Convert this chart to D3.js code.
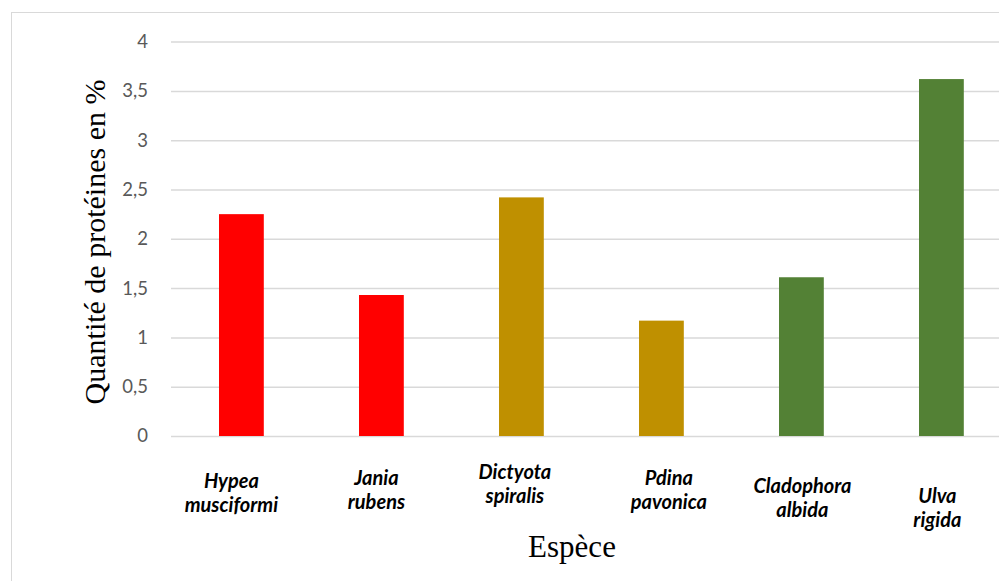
<!DOCTYPE html>
<html>
<head>
<meta charset="utf-8">
<script src="https://cdn.jsdelivr.net/npm/d3@7"></script>
<style>
  html, body { margin: 0; padding: 0; background: #fff; }
  svg { display: block; }
</style>
</head>
<body>
<svg id="chart" width="999" height="581"></svg>
<script>
// Species (two-line labels) and protein content (%)
const speciesLine1 = ["Hypea", "Jania", "Dictyota", "Pdina", "Cladophora", "Ulva"];
const speciesLine2 = ["musciformi", "rubens", "spiralis", "pavonica", "albida", "rigida"];
const proteinPct = [2.25, 1.43, 2.42, 1.17, 1.61, 3.62];
const algaGroup = ["rouge", "rouge", "brune", "brune", "verte", "verte"];
const groupNames = ["rouge", "brune", "verte"];
const groupColors = ["#ff0000", "#bf9000", "#538135"];
const yTicks = [0, 0.5, 1, 1.5, 2, 2.5, 3, 3.5, 4];
const yTitle = "Quantité de protéines en %";
const xTitle = "Espèce";

const svg = d3.select("#chart");

// chart frame
svg.append("rect")
  .attr("x", 11.5).attr("y", 12.5)
  .attr("width", 1000).attr("height", 600)
  .attr("fill", "none").attr("stroke", "#d9d9d9").attr("stroke-width", 1);

const x = d3.scaleBand()
  .domain(d3.range(speciesLine1.length))
  .range([171.4, 1011.4])
  .paddingInner(0.68)
  .paddingOuter(0.34);

const y = d3.scaleLinear().domain([0, 4]).range([436, 41.6]);

const color = d3.scaleOrdinal().domain(groupNames).range(groupColors);

const fmt = v => String(v).replace(".", ",");

// horizontal gridlines via axis ticks
const yAxis = d3.axisLeft(y)
  .tickValues(yTicks)
  .tickSize(-(1011 - 171))
  .tickPadding(23)
  .tickFormat(fmt);

const gy = svg.append("g").attr("transform", "translate(171,0)").call(yAxis);
gy.select(".domain").remove();
gy.selectAll(".tick line").attr("stroke", "#d9d9d9").attr("stroke-width", 1.5);
gy.selectAll(".tick text")
  .attr("fill", "#595959")
  .style("font-family", "Lato, 'Open Sans', sans-serif")
  .style("font-size", "18.5px");

// bars
svg.append("g").selectAll("rect")
  .data(proteinPct)
  .join("rect")
  .attr("x", (d, i) => x(i))
  .attr("width", x.bandwidth())
  .attr("y", d => y(d))
  .attr("height", d => y(0) - y(d))
  .attr("fill", (d, i) => color(algaGroup[i]));

// category labels, nudged individually like the hand-placed originals
const nudge = [[-10, 52], [-5, 49], [-6.5, 43], [7.5, 49], [1, 57], [-4, 67]];
const labels = svg.append("g")
  .style("font-family", "Lato, 'Open Sans', sans-serif")
  .style("font-size", "20px")
  .style("font-weight", "bold")
  .style("font-style", "italic")
  .attr("fill", "#000")
  .attr("text-anchor", "middle");

speciesLine1.forEach((name, i) => {
  const cx = x(i) + x.bandwidth() / 2 + nudge[i][0];
  const by = y(0) + nudge[i][1];
  const t = labels.append("text").attr("x", cx).attr("y", by);
  t.append("tspan").attr("x", cx).text(name);
  t.append("tspan").attr("x", cx).attr("dy", 24).text(speciesLine2[i]);
});

// axis titles
svg.append("text")
  .attr("transform", "translate(105,242) rotate(-90)")
  .attr("text-anchor", "middle")
  .style("font-family", "'Liberation Serif', 'Times New Roman', serif")
  .style("font-size", "30px")
  .attr("fill", "#000")
  .text(yTitle);

svg.append("text")
  .attr("x", 572).attr("y", 557)
  .attr("text-anchor", "middle")
  .style("font-family", "'Liberation Serif', 'Times New Roman', serif")
  .style("font-size", "31px")
  .attr("fill", "#000")
  .text(xTitle);
</script>
</body>
</html>
